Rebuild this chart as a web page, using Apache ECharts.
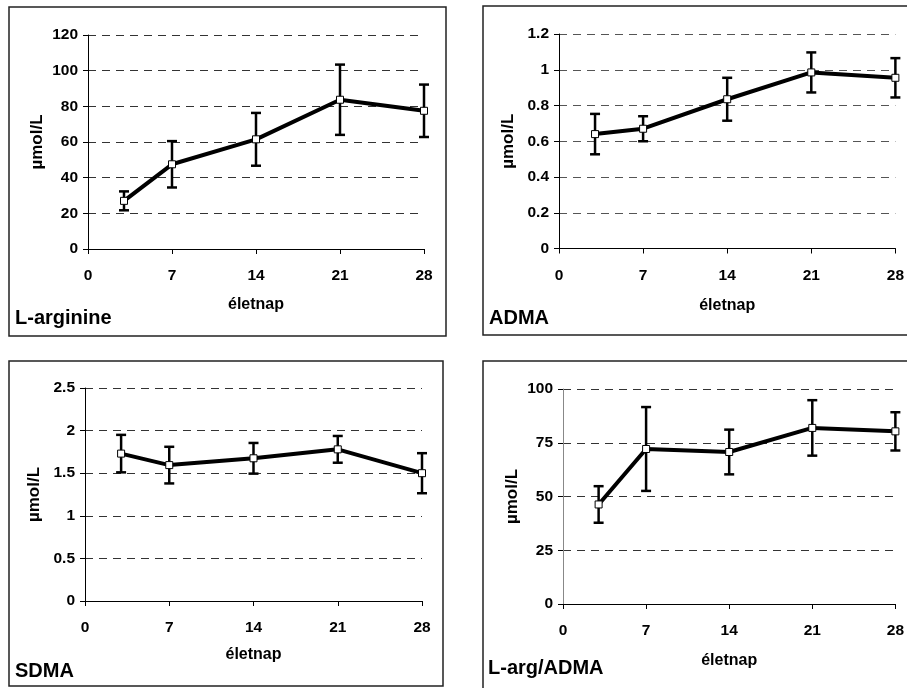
<!DOCTYPE html>
<html>
<head>
<meta charset="utf-8">
<script src="https://cdn.jsdelivr.net/npm/echarts@6/dist/echarts.min.js"></script>
<style>
html,body{margin:0;padding:0;background:#fff;}
#c{width:907px;height:688px;}
</style>
</head>
<body>
<div id="c"></div>
<script>
// ---- data ----
const days = [3, 7, 14, 21, 28];
const xTicks = [0, 7, 14, 21, 28];

const largMean = [27, 47.5, 61.5, 83.7, 77.5];
const largErr  = [5.3, 13, 14.8, 19.7, 14.7];

const admaMean = [0.64, 0.67, 0.835, 0.985, 0.955];
const admaErr  = [0.113, 0.07, 0.12, 0.112, 0.11];

const sdmaMean = [1.73, 1.595, 1.675, 1.78, 1.50];
const sdmaErr  = [0.22, 0.215, 0.18, 0.157, 0.235];

const ratioMean = [46.3, 72.1, 70.7, 81.9, 80.3];
const ratioErr  = [8.5, 19.5, 10.4, 12.9, 8.9];

const panelTitles = ['L-arginine', 'ADMA', 'SDMA', 'L-arg/ADMA'];
const yName = 'µmol/L';
const xName = 'életnap';

// ---- layout ----
const FONT = "'Liberation Sans', Arial, Helvetica, sans-serif";
const panels = [
  {grid:{left:88, top:35, width:336, height:214}, ymax:120, yint:20, mean:largMean, err:largErr, grid2:'#333', yAxisColor:'#000', xGap:48,
   box:{x:9, y:7, width:437, height:329}, title:{x:15, y:318}},
  {grid:{left:559, top:34, width:339, height:214.5}, ymax:1.2, yint:0.2, mean:admaMean, err:admaErr, grid2:'#555', yAxisColor:'#000', xGap:49,
   box:{x:483, y:6, width:440, height:329}, title:{x:489, y:318}},
  {grid:{left:85, top:388, width:337, height:213}, ymax:2.5, yint:0.5, mean:sdmaMean, err:sdmaErr, grid2:'#333', yAxisColor:'#000', xGap:46,
   box:{x:9, y:361, width:434, height:325}, title:{x:15, y:671}},
  {grid:{left:563, top:389, width:335, height:215}, ymax:100, yint:25, mean:ratioMean, err:ratioErr, grid2:'#333', yAxisColor:'#888', xGap:49,
   box:{x:483, y:361, width:440, height:340}, title:{x:488, y:668}}
];

const grids = [], xAxes = [], yAxes = [], series = [], graphics = [];

panels.forEach((p, i) => {
  grids.push(Object.assign({containLabel:false}, p.grid));
  xAxes.push({
    type:'value', gridIndex:i, min:0, max:28, interval:7,
    name:xName, nameLocation:'middle', nameGap:p.xGap,
    nameTextStyle:{fontFamily:FONT, fontWeight:'bold', fontSize:16, color:'#000'},
    axisLine:{show:true, onZero:false, lineStyle:{color:'#000', width:1}},
    axisTick:{show:true, length:5, lineStyle:{color:'#000', width:1}},
    axisLabel:{margin:19, fontFamily:FONT, fontWeight:'bold', fontSize:15.5, color:'#000'},
    splitLine:{show:false}
  });
  yAxes.push({
    type:'value', gridIndex:i, min:0, max:p.ymax, interval:p.yint,
    name:yName, nameLocation:'middle', nameGap:42, nameRotate:90,
    nameTextStyle:{fontFamily:FONT, fontWeight:'bold', fontSize:17, color:'#000'},
    axisLine:{show:true, lineStyle:{color:p.yAxisColor, width:1}},
    axisTick:{show:true, length:5, lineStyle:{color:'#000', width:1}},
    axisLabel:{margin:10, fontFamily:FONT, fontWeight:'bold', fontSize:15.5, color:'#000'},
    splitLine:{show:true, lineStyle:{color:p.grid2, width:1, type:[8,6]}}
  });
  const errData = days.map((d, k) => [d, p.mean[k], p.err[k]]);
  series.push({
    type:'custom', xAxisIndex:i, yAxisIndex:i, z:2, silent:true,
    data: errData,
    encode:{x:0, y:1},
    renderItem:function(params, api){
      const x = api.value(0), m = api.value(1), e = api.value(2);
      const top = api.coord([x, m + e]);
      const bot = api.coord([x, m - e]);
      const cw = 5;
      const st = {stroke:'#000', lineWidth:2.5};
      return {type:'group', children:[
        {type:'line', shape:{x1:top[0], y1:top[1], x2:bot[0], y2:bot[1]}, style:st},
        {type:'line', shape:{x1:top[0]-cw, y1:top[1], x2:top[0]+cw, y2:top[1]}, style:st},
        {type:'line', shape:{x1:bot[0]-cw, y1:bot[1], x2:bot[0]+cw, y2:bot[1]}, style:st}
      ]};
    }
  });
  series.push({
    type:'line', xAxisIndex:i, yAxisIndex:i, z:3,
    data: days.map((d, k) => [d, p.mean[k]]),
    lineStyle:{color:'#000', width:4},
    symbol:'rect', symbolSize:7, showAllSymbol:true,
    itemStyle:{color:'#fff', borderColor:'#000', borderWidth:1},
    animation:false
  });
  graphics.push({
    type:'rect', shape:p.box, style:{fill:null, stroke:'#222', lineWidth:1.5}, z:1
  });
  graphics.push({
    type:'text', x:p.title.x, y:p.title.y,
    style:{text:panelTitles[i], font:"bold 20px " + FONT, fill:'#000', textVerticalAlign:'middle', textAlign:'left'}, z:10
  });
});

const chart = echarts.init(document.getElementById('c'), null, {renderer:'canvas'});
chart.setOption({
  animation:false,
  backgroundColor:'#fff',
  grid:grids, xAxis:xAxes, yAxis:yAxes, series:series, graphic:graphics
});
</script>
</body>
</html>
